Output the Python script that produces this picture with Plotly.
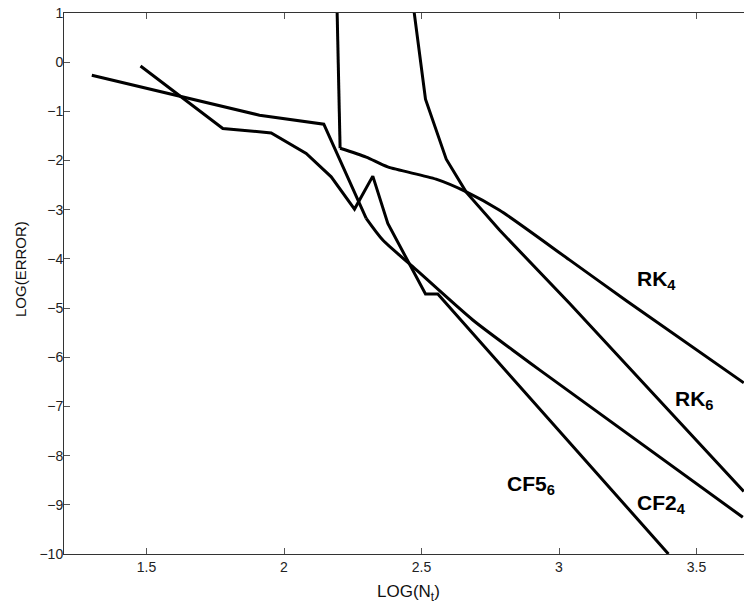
import plotly.graph_objects as go

# ---- data ----
rk4_x = [2.1855, 2.204, 2.299, 2.377, 2.553, 2.663, 2.784, 3.038, 3.245, 3.672]
rk4_y = [3.0, -1.749, -1.93, -2.13, -2.378, -2.636, -3.01, -4.02, -4.85, -6.52]

rk6_x = [2.42, 2.4745, 2.5145, 2.590, 2.6625, 2.7836, 3.038, 3.672]
rk6_y = [3.3, 1.0, -0.753, -1.972, -2.642, -3.414, -4.903, -8.73]

cf24_x = [1.3011, 1.9109, 2.1447, 2.2989, 2.3593, 2.4673, 2.6865, 2.8309, 2.9291, 3.6684]
cf24_y = [-0.266, -1.078, -1.261, -3.176, -3.617, -4.153, -5.242, -5.851, -6.257, -9.253]

cf56_x = [1.4782, 1.7775, 1.9535, 2.0807, 2.1716, 2.2564, 2.3229, 2.3775, 2.5145, 2.5593, 3.398]
cf56_y = [-0.077, -1.349, -1.438, -1.856, -2.331, -2.987, -2.317, -3.278, -4.714, -4.714, -10.0]

labels = ["<b>RK<sub>4</sub></b>", "<b>RK<sub>6</sub></b>", "<b>CF5<sub>6</sub></b>", "<b>CF2<sub>4</sub></b>"]
label_x = [3.356, 3.4927, 2.898, 3.3745]
label_y = [-4.43, -6.866, -8.593, -8.98]

x_ticks = [1.5, 2, 2.5, 3, 3.5]
y_ticks = list(range(-10, 2))

LINE = dict(color="black", width=3)

fig = go.Figure()


def add_line(xs, ys, shape="linear"):
    fig.add_trace(go.Scatter(x=xs, y=ys, mode="lines",
                             line=dict(LINE, shape=shape, smoothing=0.7) if shape == "spline" else LINE,
                             showlegend=False, hoverinfo="skip"))


# RK4: steep start, then a smooth curve
add_line(rk4_x[:2], rk4_y[:2])
add_line(rk4_x[1:], rk4_y[1:], "spline")
# RK6: piecewise
add_line(rk6_x, rk6_y)
# CF2_4: piecewise start, smooth tail
add_line(cf24_x[:4], cf24_y[:4])
add_line(cf24_x[3:], cf24_y[3:], "spline")
# CF5_6: piecewise
add_line(cf56_x, cf56_y)

for t, lx, ly in zip(labels, label_x, label_y):
    fig.add_annotation(x=lx, y=ly, xref="x", yref="y", text=t, showarrow=False,
                       font=dict(family="Liberation Sans, Arial, sans-serif", size=21, color="black"))

fig.add_annotation(text="LOG(N<sub>t</sub>)", xref="paper", yref="paper",
                   x=(408 - 64) / 680, y=(554.3 - 593) / 541.6, showarrow=False,
                   xanchor="center", yanchor="middle",
                   font=dict(family="Liberation Sans, Arial, sans-serif", size=17, color="#111"))
fig.add_annotation(text="LOG(ERROR)", xref="paper", yref="paper",
                   x=(20 - 64) / 680, y=(554.3 - 269) / 541.6, showarrow=False,
                   textangle=-90, xanchor="center", yanchor="middle",
                   font=dict(family="Liberation Sans, Arial, sans-serif", size=15, color="#111"))

axis_common = dict(showgrid=False, zeroline=False, showline=True, linecolor="#333",
                   linewidth=1, ticks="inside", ticklen=6, tickcolor="#555",
                   tickfont=dict(family="Liberation Sans, Arial, sans-serif", size=14, color="#222"))

fig.update_layout(
    width=744, height=606,
    margin=dict(l=64, r=0, t=13, b=52),
    plot_bgcolor="white", paper_bgcolor="white",
    xaxis=dict(range=[1.2, 1.2 + 680 / 275], tickvals=x_ticks, mirror="ticks", **axis_common),
    yaxis=dict(range=[-10, 1], tickvals=y_ticks, mirror=False, ticklabelstandoff=-3, **axis_common),
)

fig.write_html("out.html")
